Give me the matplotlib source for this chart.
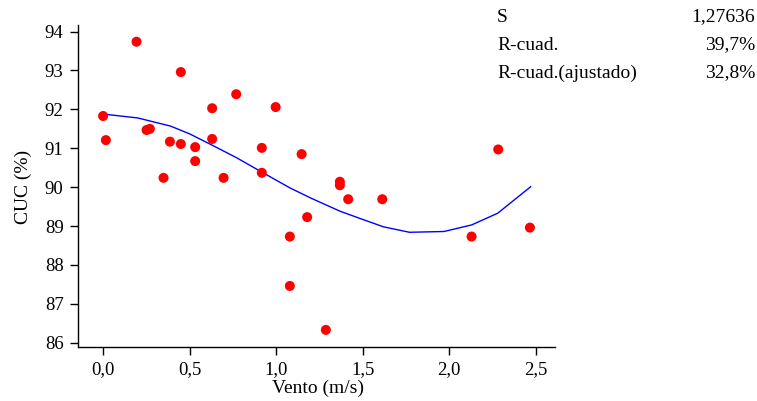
"""Fitted line plot: CUC (%) vs Vento (m/s)."""

import matplotlib
matplotlib.use("Agg")
import matplotlib.pyplot as plt
from matplotlib.ticker import FuncFormatter

plt.rcParams["font.family"] = ["Liberation Serif", "DejaVu Serif"]

vento = [0.00, 0.016, 0.193, 0.251, 0.27, 0.349, 0.386, 0.449, 0.449, 0.532,
         0.532, 0.63, 0.63, 0.696, 0.769, 0.917, 0.917, 0.997, 1.079, 1.079,
         1.147, 1.179, 1.287, 1.368, 1.368, 1.416, 1.613, 2.129, 2.283, 2.466]
cuc = [91.83, 91.21, 93.74, 91.47, 91.50, 90.24, 91.17, 92.96, 91.11, 91.03,
       90.67, 92.03, 91.24, 90.24, 92.39, 91.01, 90.37, 92.06, 88.73, 87.46,
       90.85, 89.23, 86.33, 90.14, 90.05, 89.69, 89.69, 88.73, 90.97, 88.96]

# fitted curve vertices
fit_x = [0.00, 0.20, 0.39, 0.50, 0.63, 0.77, 0.92, 1.08, 1.20, 1.37, 1.50,
         1.62, 1.77, 1.97, 2.13, 2.28, 2.47]
fit_y = [91.88, 91.78, 91.57, 91.37, 91.08, 90.76, 90.38, 89.98, 89.72, 89.38,
         89.17, 88.98, 88.84, 88.86, 89.03, 89.33, 90.01]

x_ticks = [0.0, 0.5, 1.0, 1.5, 2.0, 2.5]
y_ticks = [86, 87, 88, 89, 90, 91, 92, 93, 94]

stats_labels = ["S", "R-cuad.", "R-cuad.(ajustado)"]
stats_values = ["1,27636", "39,7%", "32,8%"]

fig = plt.figure(figsize=(7.57, 4.01), dpi=100)
ax = fig.add_axes([77.5 / 757, 1 - 347 / 401, (555 - 77.5) / 757, (347 - 25) / 401])

ax.plot(fit_x, fit_y, color="#0000ff", linewidth=1.0, zorder=2)
ax.scatter(vento, cuc, s=52, color="#ff0000", edgecolors="none", zorder=3)

ax.set_xlim(-0.148, 2.611)
ax.set_ylim(85.89, 94.17)
ax.set_xticks(x_ticks)
ax.set_yticks(y_ticks)
ax.xaxis.set_major_formatter(FuncFormatter(lambda v, _: f"{v:.1f}".replace(".", ",")))

for side in ("top", "right"):
    ax.spines[side].set_visible(False)
for side in ("left", "bottom"):
    ax.spines[side].set_linewidth(1.0)
ax.tick_params(direction="out", length=6, width=1.0, pad=4, labelsize=13.5,
               colors="black")

ax.set_xlabel("Vento (m/s)", fontsize=14)
ax.set_ylabel("CUC (%)", fontsize=14)
ax.xaxis.set_label_coords((318 - 77.5) / (555 - 77.5), -(388 - 347) / (347 - 25))
ax.yaxis.set_label_coords(-(77.5 - 23) / (555 - 77.5), (347 - 187) / (347 - 25))
ax.xaxis.label.set_va("center")
ax.yaxis.label.set_va("center")

for i, (lab, val) in enumerate(zip(stats_labels, stats_values)):
    y = 1 - (17 + 28 * i) / 401
    fig.text(497 / 757, y, lab, fontsize=14, ha="left", va="center")
    fig.text(755 / 757, y, val, fontsize=14, ha="right", va="center")

fig.savefig("out.png", dpi=100)
